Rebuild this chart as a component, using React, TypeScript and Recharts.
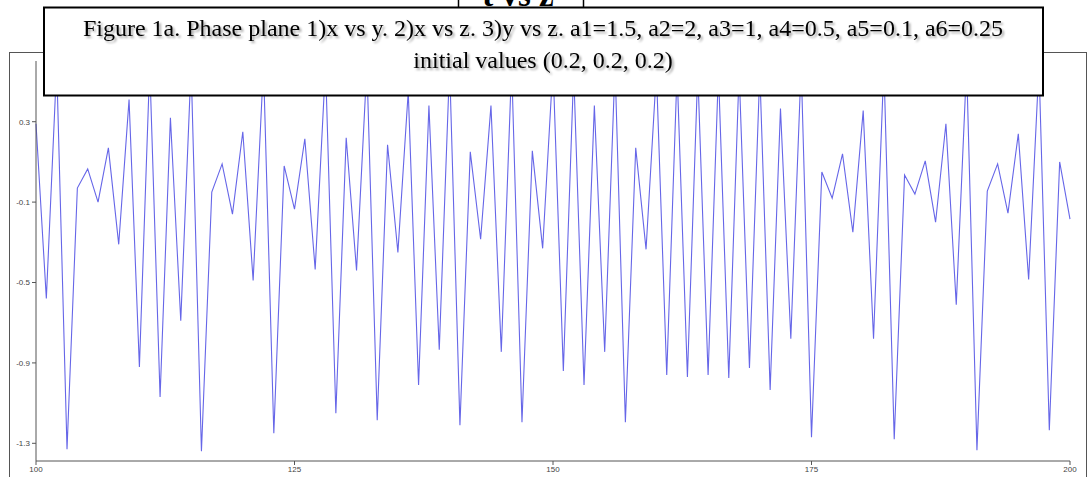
import React from "react";
import { LineChart, Line, XAxis, YAxis } from "recharts";

// z(t) sampled once per step, t = 100 .. 200
const T_START = 100;
const Z_VALUES = [
  0.29, -0.58, 0.58, -1.33, -0.03, 0.065, -0.1, 0.17, -0.31, 0.41,
  -0.92, 0.58, -1.07, 0.32, -0.69, 0.58, -1.34, -0.05, 0.09, -0.16,
  0.25, -0.49, 0.58, -1.25, 0.08, -0.135, 0.215, -0.435, 0.58, -1.15,
  0.22, -0.44, 0.58, -1.185, 0.185, -0.35, 0.45, -1.01, 0.38, -0.835,
  0.58, -1.21, 0.15, -0.285, 0.38, -0.845, 0.58, -1.195, 0.155, -0.33,
  0.58, -0.94, 0.55, -1.01, 0.38, -0.845, 0.58, -1.195, 0.17, -0.335,
  0.55, -0.96, 0.55, -0.97, 0.55, -0.96, 0.55, -0.975, 0.55, -0.925,
  0.55, -1.035, 0.365, -0.78, 0.58, -1.27, 0.05, -0.08, 0.14, -0.25,
  0.355, -0.78, 0.58, -1.28, 0.035, -0.06, 0.105, -0.2, 0.29, -0.61,
  0.58, -1.335, -0.045, 0.09, -0.155, 0.24, -0.485, 0.58, -1.235, 0.1,
  -0.185,
];
const X_TICKS = [100, 125, 150, 175, 200];
const Y_TICKS = [0.3, -0.1, -0.5, -0.9, -1.3];
const PANEL_LABEL = "t vs z";
const CAPTION = [
  "Figure 1a. Phase plane 1)x vs y. 2)x vs z. 3)y vs z. a1=1.5, a2=2, a3=1, a4=0.5, a5=0.1, a6=0.25",
  "initial values (0.2, 0.2, 0.2)",
];

const data = Z_VALUES.map((z, i) => ({ t: T_START + i, z }));

const tickStyle = { fontSize: 8, fill: "#444", fontFamily: "Liberation Sans" };

export default function App() {
  return (
    <div
      style={{
        position: "fixed",
        left: 0,
        top: 0,
        width: 1090,
        height: 477,
        overflow: "hidden",
        background: "#fff",
      }}
    >
      {/* outer window frame */}
      <div
        style={{
          position: "absolute",
          left: 9,
          top: 52,
          width: 1078,
          height: 425,
          borderLeft: "1px solid #555",
          borderTop: "1px solid #555",
          borderRight: "1px solid #555",
          boxSizing: "border-box",
        }}
      />
      <div style={{ position: "absolute", left: 0, top: 0 }}>
        <LineChart
          width={1090}
          height={477}
          data={data}
          margin={{ top: 61, right: 20, bottom: 1, left: 6 }}
        >
          <XAxis
            dataKey="t"
            type="number"
            domain={[100, 200]}
            ticks={X_TICKS}
            height={15}
            tickSize={4}
            tickMargin={1}
            stroke="#555"
            tick={tickStyle}
          />
          <XAxis
            xAxisId="top"
            dataKey="t"
            type="number"
            orientation="top"
            domain={[100, 200]}
            height={0}
            tick={false}
            tickLine={false}
            stroke="#aaa"
          />
          <YAxis
            type="number"
            domain={[-1.388, 0.602]}
            ticks={Y_TICKS}
            width={30}
            tickSize={4}
            tickMargin={2}
            stroke="#555"
            tick={tickStyle}
            allowDataOverflow
          />
          <YAxis
            yAxisId="right"
            orientation="right"
            domain={[-1.388, 0.602]}
            width={0}
            tick={false}
            tickLine={false}
            stroke="#aaa"
          />
          <Line
            dataKey="z"
            type="linear"
            stroke="#6666e8"
            strokeWidth={1.1}
            dot={false}
            isAnimationActive={false}
          />
        </LineChart>
      </div>
      {/* caption overlay */}
      <svg
        width={1090}
        height={477}
        style={{ position: "absolute", left: 0, top: 0, pointerEvents: "none" }}
      >
        <defs>
          <filter id="shadow" x="-5%" y="-20%" width="110%" height="160%">
            <feDropShadow dx="2" dy="2" stdDeviation="1.2" floodColor="#000" floodOpacity="0.35" />
          </filter>
        </defs>
        <line x1={458.5} y1={0} x2={458.5} y2={8} stroke="#000" strokeWidth={1.5} />
        <line x1={583.5} y1={0} x2={583.5} y2={8} stroke="#000" strokeWidth={1.5} />
        <text
          x={518}
          y={6}
          textAnchor="middle"
          fontFamily="Liberation Serif"
          fontWeight="bold"
          fontSize={33}
          fill="#000"
        >
          {PANEL_LABEL}
        </text>
        <rect
          x={44}
          y={7.5}
          width={999}
          height={88}
          fill="#fff"
          stroke="#000"
          strokeWidth={2}
        />
        {CAPTION.map((line, i) => (
          <text
            key={i}
            x={543}
            y={36 + i * 32}
            textAnchor="middle"
            fontFamily="Liberation Serif"
            fontSize={24}
            fill="#000"
            filter="url(#shadow)"
          >
            {line}
          </text>
        ))}
      </svg>
    </div>
  );
}
